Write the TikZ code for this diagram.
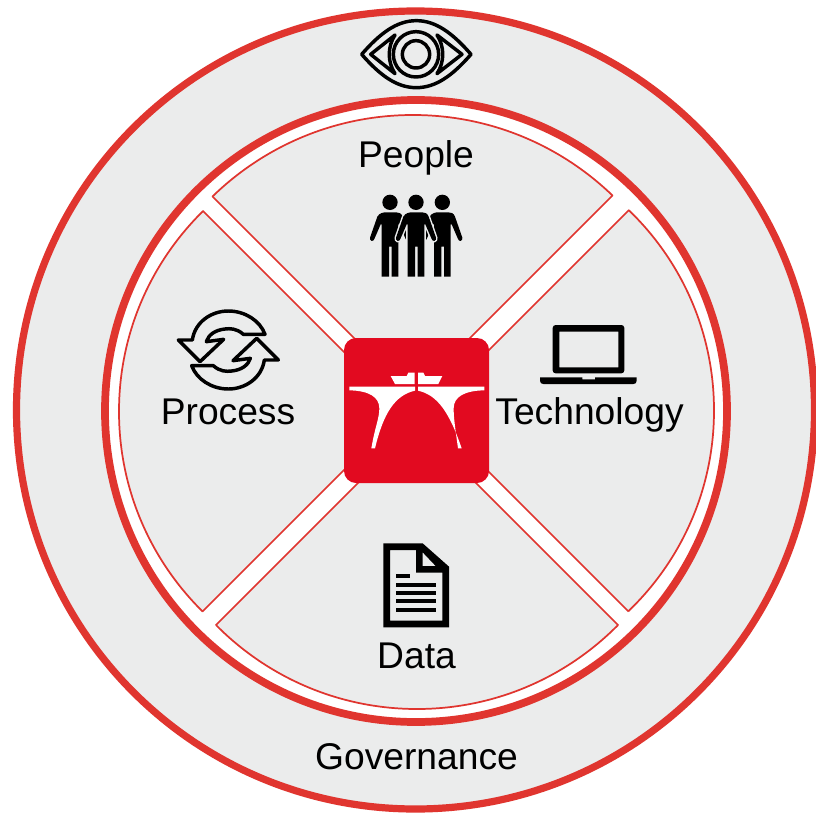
\documentclass[tikz,border=0pt]{standalone}
\usepackage{fontspec}
\setmainfont{Liberation Sans}
\definecolor{ringred}{HTML}{E0352F}
\definecolor{panel}{HTML}{EBECEC}
\definecolor{logored}{HTML}{E20A20}
\tikzset{
  ring/.style={draw=ringred,line width=5.4pt},
  sector/.style={draw=ringred,line width=1.3pt},
  label/.style={font=\fontsize{27.9pt}{30pt}\selectfont,anchor=base,inner sep=0pt,text=black},
  iconline/.style={draw=black,line width=2.6pt,line join=round},
  zoomed/.style={x=0.25pt,y=-0.25pt}
}
% apex, first ray end, second ray end, arc radius, arc centre (pixel coordinates)
\newcommand\wedgesector[5]{%
  \begin{scope}
    \clip (#5) circle[radius=#4+0.4];
    \fill[panel] (#1) -- (#2) -- (#3) -- cycle;
    \draw[sector] (#2) -- (#1) -- (#3);
  \end{scope}
  \begin{scope}
    \clip (#1) -- (#2) -- (#3) -- cycle;
    \draw[sector] (#5) circle[radius=#4];
  \end{scope}
}
\begin{document}
\begin{tikzpicture}[x=0.75pt,y=-0.75pt]
\useasboundingbox (0,0) rectangle (816,813);
\clip (0,0) rectangle (816,813);
\fill[white] (0,0) rectangle (816,813);
% rings
\draw[ring,fill=panel] (415.5,410) circle[radius=399];
\draw[ring,fill=white,line width=5.8pt] (416,411) circle[radius=311];
% sectors
\wedgesector{412,396}{12,-4}{812,-4}{287.4}{413,402.4}
\wedgesector{428,411}{828,11}{828,811}{278}{436,410.5}
\wedgesector{417,424}{817,824}{17,824}{282.5}{417,426.5}
\wedgesector{403,411}{3,811}{3,11}{281}{400,411.5}
% centre logo
\fill[logored,rounded corners=9pt] (344,338) rectangle (489,483);
\begin{scope}[shift={(340,330)},zoomed]
  \fill[white] (28,170) -- (225,170) -- (225,182) .. controls (165,195) and (130,250) .. (105,355) -- (94,355)
     .. controls (105,290) and (118,265) .. (118,235) .. controls (118,200) and (85,182) .. (28,181) -- cycle;
  \fill[white] (433,170) -- (234,170) -- (234,182) .. controls (294,195) and (329,250) .. (365,355) -- (354,355)
     .. controls (345,290) and (341,265) .. (341,235) .. controls (341,200) and (374,182) .. (433,181) -- cycle;
  \fill[white] (152,138) -- (200,138) -- (205,128) -- (224,128) -- (224,162) -- (165,162) -- cycle;
  \fill[white] (234,128) -- (250,128) -- (255,138) -- (307,138) -- (295,162) -- (234,162) -- cycle;
\end{scope}
% eye
\begin{scope}[shift={(350,10)},zoomed]
  \draw[iconline] (35,133) .. controls (90,70) and (140,32) .. (199,32) .. controls (258,32) and (308,70) .. (363,133)
     .. controls (308,196) and (258,233) .. (199,233) .. controls (140,233) and (90,196) .. (35,133) -- cycle;
  \draw[iconline] (62,133) -- (135,75) .. controls (112,110) and (112,156) .. (135,191) -- cycle;
  \draw[iconline] (336,133) -- (261,75) .. controls (284,110) and (284,156) .. (261,191) -- cycle;
  \draw[iconline] (198,133) circle[radius=68];
  \draw[iconline] (198,133) circle[radius=41];
\end{scope}
% people
\def\personbody{
  (-38,95) .. controls (-32,84) and (-20,82) .. (-12,82) -- (18,82) .. controls (26,82) and (34,84) .. (38,95)
  -- (60,158) .. controls (62,168) and (50,172) .. (47,162) -- (28,118) -- (25,118) -- (25,275) -- (5,275) -- (5,185) -- (-3,185) -- (-3,275) -- (-25,275) -- (-25,118) -- (-28,118)
  -- (-47,162) .. controls (-50,172) and (-62,168) .. (-60,158) -- cycle}
\begin{scope}[shift={(360,185)},zoomed]
  \begin{scope}[shift={(90,0)}]
    \fill[black] (0,52) circle[radius=23];
    \fill[black] \personbody;
  \end{scope}
  \begin{scope}[shift={(247,0)}]
    \fill[black] (0,52) circle[radius=23];
    \fill[black] \personbody;
  \end{scope}
  \begin{scope}[shift={(168,0)}]
    \fill[black] (0,52) circle[radius=23];
    \draw[panel,line width=2.2pt] \personbody;
    \fill[black] \personbody;
  \end{scope}
\end{scope}
% process
\def\cyclearrow{
  (40,120) -- (82,120) .. controls (90,65) and (140,33) .. (190,33) .. controls (240,33) and (285,62) .. (300,103)
  -- (235,103) .. controls (215,85) and (195,85) .. (180,87) .. controls (150,90) and (130,105) .. (124,125)
  -- (176,118) -- (105,185) -- cycle}
\begin{scope}[shift={(165,300)},zoomed]
  \draw[iconline] \cyclearrow;
  \draw[iconline,shift={(380,300)},xscale=-1,yscale=-1] \cyclearrow;
\end{scope}
% laptop
\begin{scope}[shift={(530,315)},zoomed]
  \fill[black,even odd rule] [rounded corners=2.2pt] (68,175) -- (68,30) -- (283,30) -- (283,175) -- cycle [sharp corners] (88,50) rectangle (265,157);
  \fill[black] (30,187) -- (157,187) -- (157,193) -- (195,193) -- (195,187) -- (320,187) -- (320,197) .. controls (320,204) and (316,207) .. (310,207)
    -- (40,207) .. controls (34,207) and (30,204) .. (30,197) -- cycle;
\end{scope}
% document
\begin{scope}[shift={(370,535)},zoomed]
  \fill[black,even odd rule] (40,25) -- (158,25) -- (237,95) -- (237,277) -- (40,277) -- cycle
    (60,45) -- (138,45) -- (138,113) -- (217,113) -- (217,257) -- (60,257) -- cycle
    (158,52) -- (158,93) -- (197,93) -- cycle;
  \fill[black] (78,117) rectangle (120,130);
  \fill[black] (78,143) rectangle (198,155);
  \fill[black] (78,168) rectangle (198,180);
  \fill[black] (78,193) rectangle (198,205);
  \fill[black] (78,218) rectangle (198,230);
\end{scope}
% labels
\node[label] (people) at (416,167) {People};
\node[label] (process) at (228,424.5) {Process};
\node[label] (technology) at (589.5,424.5) {Technology};
\node[label] (data) at (416.5,668.5) {Data};
\node[label] (governance) at (416.5,769) {Governance};
\end{tikzpicture}
\end{document}
